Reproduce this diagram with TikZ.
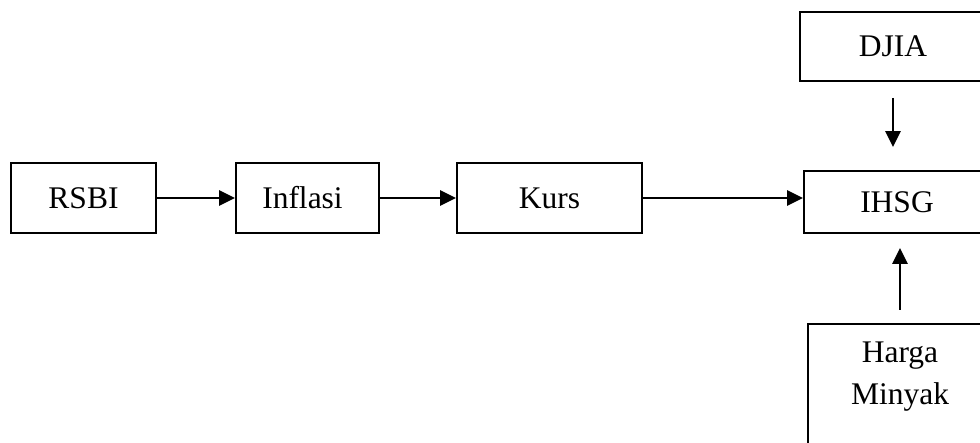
\documentclass[tikz,border=0pt]{standalone}
\usepackage{fontspec}
\setmainfont{Liberation Serif}
\usetikzlibrary{arrows.meta}
\begin{document}
\begin{tikzpicture}[x=1pt,y=-1pt,
  bx/.style={draw=black, line width=1.8pt, fill=white, inner sep=0pt,
    font=\fontsize{31.5}{42}\selectfont, align=center},
  arr/.style={draw=black, line width=2.5pt, -{Triangle[length=16pt,width=15pt]}}]
\useasboundingbox (0,0) rectangle (980,443);
\clip (0,0) rectangle (980,443);
\node[bx, minimum width=145pt, minimum height=70pt] (rsbi) at (83.5,198) {RSBI};
\node[bx, minimum width=143pt, minimum height=70pt] (infl) at (307.5,198) {Inflasi\hspace{10pt}};
\node[bx, minimum width=185pt, minimum height=70pt] (kurs) at (549.5,198) {Kurs};
\node[bx, minimum width=186pt, minimum height=62pt] (ihsg) at (897,202) {IHSG};
\node[bx, minimum width=186pt, minimum height=69pt] (djia) at (893,46.5) {DJIA};
\node[bx, minimum width=184pt, minimum height=140pt, anchor=north] (harga) at (900,323) {};
\node[font=\fontsize{31.5}{42}\selectfont, align=center, anchor=base] (hargatxt) at (900,405) {Harga\\Minyak};
\draw[arr] (rsbi.east) -- (infl.west);
\draw[arr] (infl.east) -- (kurs.west);
\draw[arr] (kurs.east) -- (kurs.east -| ihsg.west);
\draw[arr, shorten <=16pt, shorten >=23pt] (djia.south) -- (djia.south |- ihsg.north);
\draw[arr, shorten <=13pt, shorten >=14pt] (harga.north) -- (harga.north |- ihsg.south);
\end{tikzpicture}
\end{document}
